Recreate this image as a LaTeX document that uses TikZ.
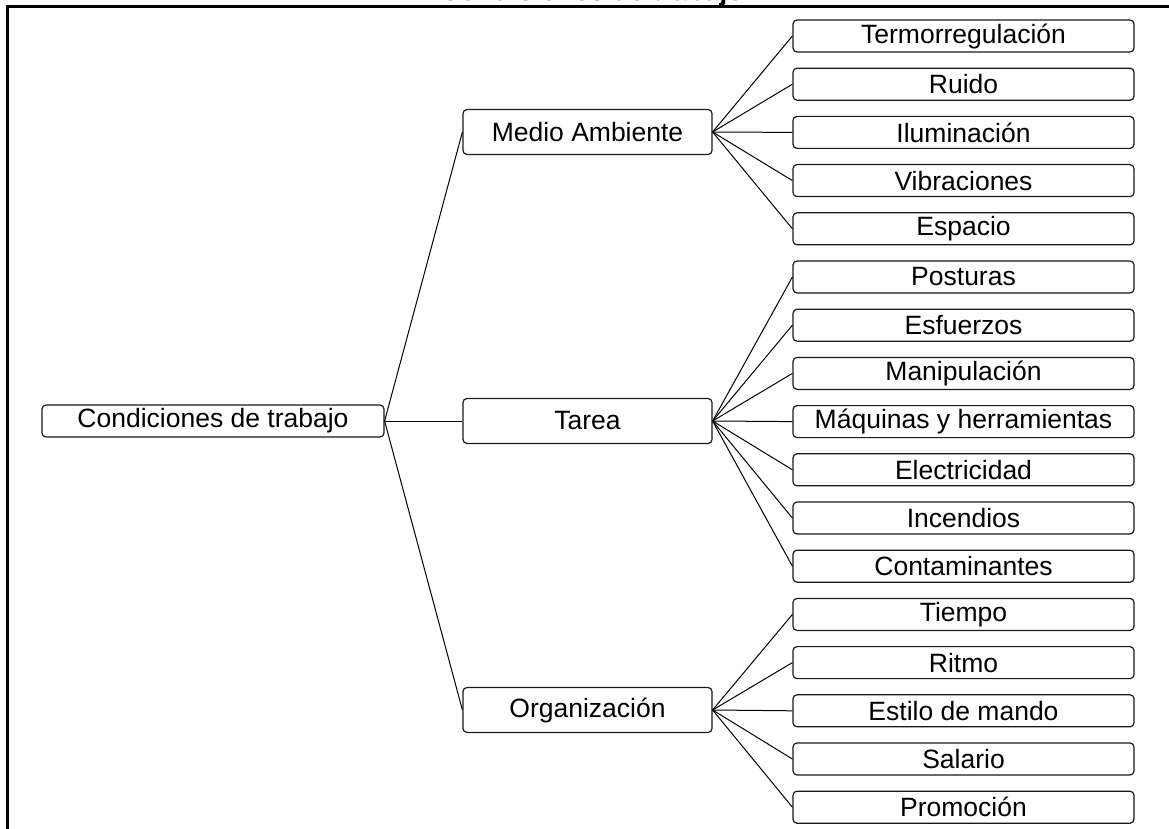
\documentclass[tikz,border=0pt]{standalone}
\usepackage{fontspec}
\setmainfont{Liberation Sans}
\begin{document}
\begin{tikzpicture}[x=1pt,y=-1pt,
  txt/.style={font=\fontsize{26.5}{30}\selectfont},
  box/.style={draw=black!90, line width=1.2pt, rounded corners=4pt, inner sep=0pt, fill=white, txt},
  rootbox/.style={box, minimum width=342pt, minimum height=32pt},
  midbox/.style={box, minimum width=249pt, minimum height=45pt},
  leafbox/.style={box, minimum width=341pt, minimum height=32pt},
  link/.style={line width=1pt, black}]
\useasboundingbox (0,0) rectangle (1169,829);
\clip (0,0) rectangle (1169,829);
\fill[white] (0,0) rectangle (1169,829);

% outer frame and heading
\draw[line width=2.2pt] (7.5,900) -- (7.5,6.5) -- (1300,6.5);
\node[anchor=base, font=\bfseries\fontsize{27.5}{30}\selectfont, inner sep=0pt] (title) at (592,1) {Condiciones de trabajo};

% root and the three groups
\node[rootbox] (root) at (213,421) {Condiciones de trabajo};
\node[midbox] (ma) at (587.5,132) {Medio Ambiente};
\node[midbox] (ta) at (587.5,421) {Tarea};
\node[midbox] (or) at (587.5,710) {Organización};

\foreach \g in {ma,ta,or} \draw[link] (root.east) -- (\g.west);

% leaves
\foreach \t [count=\i from 0] in {Termorregulación,Ruido,Iluminación,Vibraciones,Espacio,
  Posturas,Esfuerzos,Manipulación,Máquinas y herramientas,Electricidad,Incendios,Contaminantes,
  Tiempo,Ritmo,Estilo de mando,Salario,Promoción}
  \node[leafbox] (l\i) at (963.5,{36+48.2*\i}) {\t};

\foreach \i in {0,...,4} \draw[link] (ma.east) -- (l\i.west);
\foreach \i in {5,...,11} \draw[link] (ta.east) -- (l\i.west);
\foreach \i in {12,...,16} \draw[link] (or.east) -- (l\i.west);
\end{tikzpicture}
\end{document}
